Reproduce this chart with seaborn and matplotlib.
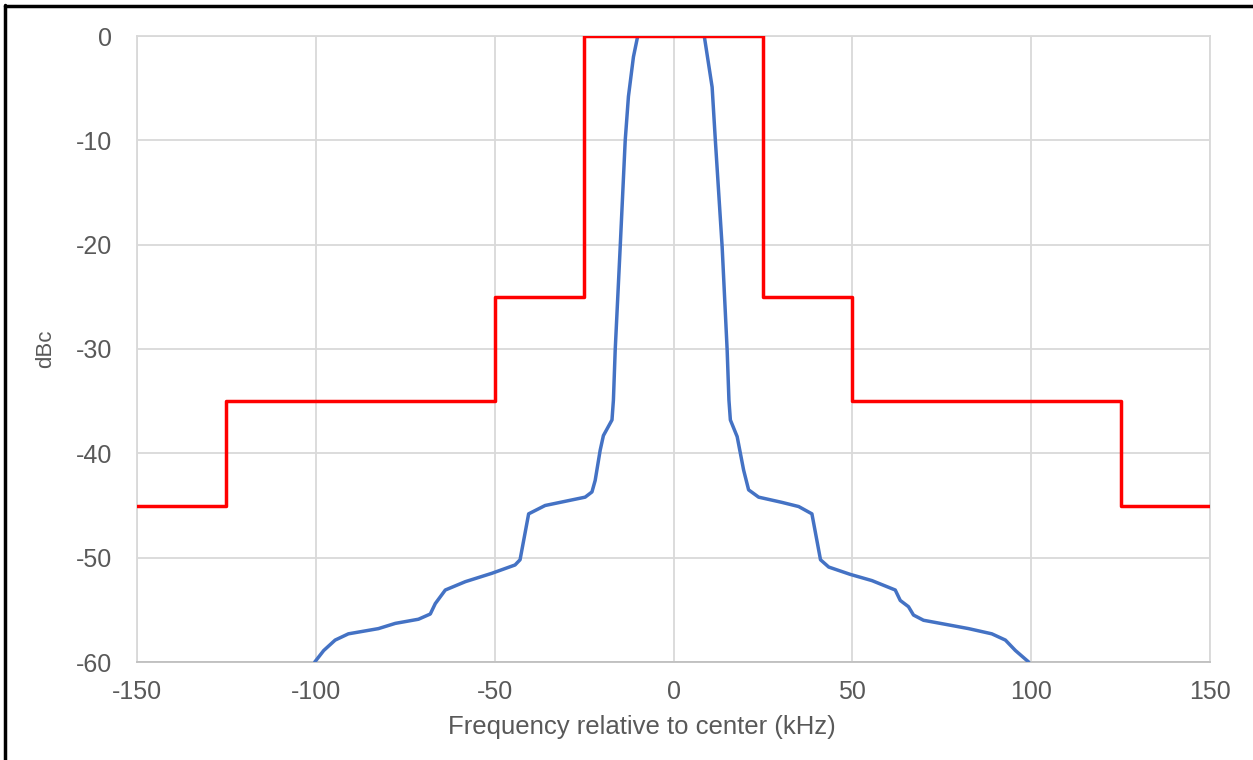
import matplotlib
matplotlib.use("Agg")
import matplotlib.pyplot as plt
from matplotlib.lines import Line2D
import seaborn as sns
import pandas as pd

# Spectrum mask (red)
mask_freq = [-150, -125, -125, -50, -50, -25, -25, 25, 25, 50, 50, 125, 125, 150]
mask_db = [-45, -45, -35, -35, -25, -25, 0, 0, -25, -25, -35, -35, -45, -45]

# Measured spectrum (blue)
spec_freq = [-100.3, -97.8, -94.6, -90.9, -82.5, -77.8, -71.3, -68.0, -66.6, -63.8,
             -58.2, -50.8, -44.3, -42.9, -40.5, -35.9, -30.3, -24.7, -22.8, -21.9,
             -20.5, -19.6, -17.2, -16.8, -16.3, -14.9, -13.5, -12.6, -11.2, -10.0,
             8.6, 10.8, 11.7, 13.6, 15.0, 15.5, 15.9, 17.8, 19.6, 21.0,
             23.8, 30.3, 35.0, 38.7, 41.1, 43.4, 49.4, 55.5, 62.0, 63.4,
             65.7, 67.1, 69.9, 77.8, 82.5, 89.0, 92.8, 95.6, 99.3]
spec_db = [-60, -58.9, -57.9, -57.3, -56.8, -56.3, -55.9, -55.4, -54.4, -53.1,
           -52.3, -51.5, -50.7, -50.2, -45.8, -45.0, -44.6, -44.2, -43.7, -42.6,
           -39.7, -38.3, -36.8, -34.9, -30.1, -20.2, -10.0, -5.8, -2.0, 0,
           0, -4.9, -10, -20.2, -30.1, -34.9, -36.8, -38.4, -41.6, -43.5,
           -44.2, -44.7, -45.1, -45.8, -50.2, -50.9, -51.6, -52.2, -53.1, -54.1,
           -54.7, -55.5, -56.0, -56.5, -56.8, -57.3, -57.9, -58.9, -60]

x_ticks = [-150, -100, -50, 0, 50, 100, 150]
y_ticks = [0, -10, -20, -30, -40, -50, -60]

sns.set_theme(style="whitegrid")
plt.rcParams['font.family'] = ['Liberation Sans', 'DejaVu Sans']
plt.rcParams['axes.unicode_minus'] = False

fig = plt.figure(figsize=(12.53, 7.6), dpi=100)
ax = fig.add_axes([137/1253, 1-662/760, (1210-137)/1253, (662-36)/760])

spec = pd.DataFrame({"f": spec_freq, "db": spec_db})
mask = pd.DataFrame({"f": mask_freq, "db": mask_db})

sns.lineplot(data=spec, x="f", y="db", sort=False, estimator=None, ax=ax,
             color="#4472C4", linewidth=2.5, zorder=3)
sns.lineplot(data=mask, x="f", y="db", sort=False, estimator=None, ax=ax,
             color="#FF0000", linewidth=2.5, zorder=4)

ax.set_xlim(-150, 150)
ax.set_ylim(-60, 0)
ax.set_xticks(x_ticks)
ax.set_yticks(y_ticks)
ax.grid(True, color="#d9d9d9", linewidth=1.3)
for s in ax.spines.values():
    s.set_color("#d9d9d9")
    s.set_linewidth(1.3)
ax.spines["bottom"].set_color("#bfbfbf")
ax.tick_params(axis="both", length=0, labelsize=18, labelcolor="#595959")
ax.tick_params(axis="y", pad=18)
ax.tick_params(axis="x", pad=13)
ax.set_xlabel("Frequency relative to center (kHz)", fontsize=18.5, color="#595959")
ax.xaxis.set_label_coords((642 - 137) / 1073, -0.085)
ax.set_ylabel("dBc", fontsize=16, color="#595959", labelpad=14)

# figure frame (top and left)
fig.add_artist(Line2D([5/1253, 5/1253], [0, 1-5/760], transform=fig.transFigure,
                      color="black", linewidth=2.5))
fig.add_artist(Line2D([5/1253, 1], [1-6/760, 1-6/760], transform=fig.transFigure,
                      color="black", linewidth=2.5))

fig.savefig("out.png", dpi=100)
